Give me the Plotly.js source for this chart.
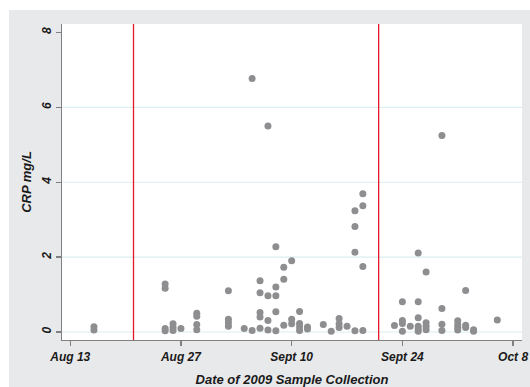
<!DOCTYPE html>
<html>
<head>
<meta charset="utf-8">
<script src="https://cdn.plot.ly/plotly-3.0.1.min.js"></script>
<style>
  html, body { margin: 0; padding: 0; background: #ffffff; width: 530px; height: 387px; overflow: hidden; }
  #chart { position: absolute; left: 9px; top: 10px; width: 521px; height: 377px; }
</style>
</head>
<body>
<div id="chart"></div>
<script>
// Sample collection dates (one entry per sample)
const sampleDates = [
  '2009-08-16','2009-08-16',
  '2009-08-25','2009-08-25','2009-08-25','2009-08-25',
  '2009-08-26','2009-08-26','2009-08-26',
  '2009-08-27',
  '2009-08-29','2009-08-29','2009-08-29','2009-08-29',
  '2009-09-02','2009-09-02','2009-09-02','2009-09-02',
  '2009-09-04',
  '2009-09-05','2009-09-05',
  '2009-09-06','2009-09-06','2009-09-06','2009-09-06','2009-09-06',
  '2009-09-07','2009-09-07','2009-09-07','2009-09-07',
  '2009-09-08','2009-09-08','2009-09-08','2009-09-08','2009-09-08',
  '2009-09-09','2009-09-09','2009-09-09',
  '2009-09-10','2009-09-10','2009-09-10',
  '2009-09-11','2009-09-11','2009-09-11','2009-09-11',
  '2009-09-12','2009-09-12',
  '2009-09-14',
  '2009-09-15',
  '2009-09-16','2009-09-16','2009-09-16',
  '2009-09-17',
  '2009-09-18','2009-09-18','2009-09-18','2009-09-18',
  '2009-09-19','2009-09-19','2009-09-19','2009-09-19',
  '2009-09-23',
  '2009-09-24','2009-09-24','2009-09-24','2009-09-24',
  '2009-09-25',
  '2009-09-26','2009-09-26','2009-09-26','2009-09-26','2009-09-26','2009-09-26',
  '2009-09-27','2009-09-27','2009-09-27','2009-09-27',
  '2009-09-29','2009-09-29','2009-09-29','2009-09-29',
  '2009-10-01','2009-10-01','2009-10-01','2009-10-01',
  '2009-10-02','2009-10-02','2009-10-02',
  '2009-10-03','2009-10-03',
  '2009-10-06'
];
// CRP values (mg/L), matching sampleDates
const crpValues = [
  0.14, 0.05,
  1.28, 1.17, 0.09, 0.03,
  0.22, 0.12, 0.04,
  0.09,
  0.50, 0.42, 0.20, 0.06,
  1.10, 0.34, 0.25, 0.15,
  0.09,
  6.77, 0.04,
  1.37, 1.05, 0.52, 0.40, 0.10,
  5.50, 0.97, 0.31, 0.05,
  2.28, 1.20, 0.97, 0.54, 0.03,
  1.73, 1.41, 0.18,
  1.90, 0.34, 0.22,
  0.55, 0.23, 0.13, 0.04,
  0.13, 0.08,
  0.20,
  0.02,
  0.36, 0.22, 0.12,
  0.15,
  3.24, 2.82, 2.13, 0.03,
  3.69, 3.37, 1.75, 0.04,
  0.17,
  0.81, 0.31, 0.23, 0.02,
  0.15,
  2.11, 0.81, 0.38, 0.15, 0.08, 0.02,
  1.60, 0.25, 0.15, 0.06,
  5.25, 0.63, 0.21, 0.04,
  0.30, 0.20, 0.12, 0.05,
  1.11, 0.18, 0.12,
  0.06, 0.02,
  0.32
];
// Period boundary dates (red reference lines)
const boundaryDates = ['2009-08-21', '2009-09-21'];
// Axis ticks
const xTickDates = ['2009-08-13', '2009-08-27', '2009-09-10', '2009-09-24', '2009-10-08'];
const xTickLabels = ['Aug 13', 'Aug 27', 'Sept 10', 'Sept 24', 'Oct 8'];
const yTickVals = [0, 2, 4, 6, 8];
const yGridVals = [0, 2, 4, 6];

const fontFam = 'Liberation Sans, Arial, Helvetica, sans-serif';
const axisColor = '#808080';

const shapes = [];
yGridVals.forEach(v => shapes.push({
  type: 'line', xref: 'paper', x0: 0, x1: 1, yref: 'y', y0: v, y1: v,
  line: { color: '#dbeef0', width: 1.2 }, layer: 'below'
}));
boundaryDates.forEach(d => shapes.push({
  type: 'line', xref: 'x', x0: d, x1: d, yref: 'paper', y0: 0, y1: 1,
  line: { color: '#e3182d', width: 1.3 }, layer: 'above'
}));

const trace = {
  type: 'scatter', mode: 'markers',
  x: sampleDates, y: crpValues,
  marker: { color: '#8e8e91', size: 7, line: { width: 0 } },
  hoverinfo: 'x+y'
};

const layout = {
  width: 521, height: 377,
  margin: { l: 53, r: 8, t: 14, b: 47, pad: 0 },
  paper_bgcolor: '#e8e9ea',
  plot_bgcolor: '#ffffff',
  showlegend: false,
  xaxis: {
    type: 'date',
    range: ['2009-08-11 23:00', '2009-10-09 03:00'],
    tickmode: 'array', tickvals: xTickDates, ticktext: xTickLabels,
    showgrid: false, zeroline: false,
    showline: true, linecolor: axisColor, linewidth: 1.3,
    ticks: 'outside', ticklen: 5, tickwidth: 1.3, tickcolor: axisColor,
    tickfont: { family: fontFam, size: 12, color: '#1a1a1a', weight: 'bold', style: 'italic' },
    title: { text: 'Date of 2009 Sample Collection', standoff: 12,
      font: { family: fontFam, size: 13, color: '#1a1a1a', weight: 'bold', style: 'italic' } }
  },
  yaxis: {
    range: [-0.214, 8.227],
    tickmode: 'array', tickvals: yTickVals,
    tickangle: -90,
    showgrid: false, zeroline: false,
    showline: true, linecolor: axisColor, linewidth: 1.3,
    ticks: 'outside', ticklen: 5, tickwidth: 1.3, tickcolor: axisColor,
    tickfont: { family: fontFam, size: 12, color: '#1a1a1a', weight: 'bold', style: 'italic' },
    title: { text: 'CRP mg/L', standoff: 5,
      font: { family: fontFam, size: 13, color: '#1a1a1a', weight: 'bold', style: 'italic' } }
  },
  shapes: shapes
};

Plotly.newPlot('chart', [trace], layout, { displayModeBar: false, staticPlot: true });
</script>
</body>
</html>
